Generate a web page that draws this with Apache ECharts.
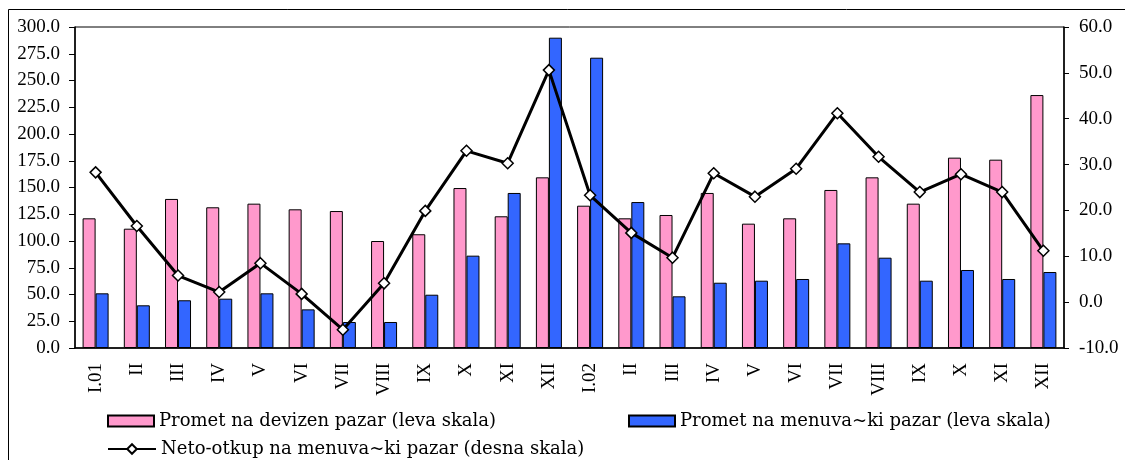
<!DOCTYPE html>
<html>
<head>
<meta charset="utf-8">
<script src="https://cdn.jsdelivr.net/npm/echarts@6/dist/echarts.min.js"></script>
<style>
html,body{margin:0;padding:0;background:#fff;}
#chart{width:1125px;height:460px;}
</style>
</head>
<body>
<div id="chart"></div>
<script>
var categories = ['I.01','II','III','IV','V','VI','VII','VIII','IX','X','XI','XII','I.02','II','III','IV','V','VI','VII','VIII','IX','X','XI','XII'];
var devizen = [121.2,111.5,139.3,131.5,134.9,129.6,128.0,100.0,106.3,149.5,123.1,159.5,133.0,121.2,124.3,144.9,116.2,121.2,147.7,159.5,134.9,177.9,176.0,236.4];
var menuvacki = [51.1,39.9,44.6,46.1,51.1,36.1,24.3,24.3,49.8,86.3,144.9,290.0,271.3,136.4,48.3,61.0,62.9,64.5,97.8,84.4,62.9,72.9,64.5,71.0];
var netoOtkup = [28.3,16.6,5.8,2.2,8.5,1.8,-6.0,4.1,19.9,33.0,30.3,50.6,23.3,15.1,9.7,28.1,23.0,29.1,41.2,31.7,24.0,27.9,24.0,11.2];
var seriesNames = ['Promet na devizen pazar (leva skala)','Promet na menuva~ki pazar (leva skala)','Neto-otkup na menuva~ki pazar (desna skala)'];

var FONT = '"Liberation Serif", "DejaVu Serif", serif';
var LFONT = '"DejaVu Serif", "Liberation Serif", serif';
var legendText = {fontFamily: LFONT, fontSize: 18, color: '#000'};
var chart = echarts.init(document.getElementById('chart'));
chart.setOption({
  animation: false,
  textStyle: {fontFamily: FONT, color: '#000'},
  grid: {left: 75, right: 61, top: 27, bottom: 112, show: true, borderColor: '#000', borderWidth: 1},
  legend: [
    {data: [{name: seriesNames[0], icon: 'rect'}], left: 107, top: 412, padding: 0, itemWidth: 46, itemHeight: 11, itemGap: 0, textStyle: legendText},
    {data: [{name: seriesNames[1], icon: 'rect'}], left: 628, top: 412, padding: 0, itemWidth: 46, itemHeight: 11, itemGap: 0, textStyle: legendText},
    {data: [seriesNames[2]], left: 107, top: 440, padding: 0, itemWidth: 48, itemHeight: 12, itemGap: 0, textStyle: legendText}
  ],
  xAxis: {
    type: 'category', data: categories, boundaryGap: true,
    axisLine: {lineStyle: {color: '#000', width: 1.5}},
    axisTick: {interval: 0, length: 6, lineStyle: {color: '#000'}},
    axisLabel: {interval: 0, rotate: 90, fontSize: 19, color: '#000', fontFamily: FONT, margin: 15}
  },
  yAxis: [
    {type: 'value', min: 0, max: 300, interval: 25, position: 'left',
     splitLine: {show: false},
     axisLine: {show: true, lineStyle: {color: '#000', width: 1.5}},
     axisTick: {show: true, length: 6, lineStyle: {color: '#000'}},
     axisLabel: {fontSize: 19, color: '#000', fontFamily: FONT, margin: 15,
       formatter: function (v) { return v.toFixed(1); }}},
    {type: 'value', min: -10, max: 60, interval: 10, position: 'right',
     splitLine: {show: false},
     axisLine: {show: true, lineStyle: {color: '#000', width: 1.5}},
     axisTick: {show: true, length: 5, lineStyle: {color: '#000'}},
     axisLabel: {fontSize: 19, color: '#000', fontFamily: FONT, margin: 15,
       formatter: function (v) { return v.toFixed(1); }}}
  ],
  series: [
    {name: seriesNames[0], type: 'bar', data: devizen, barWidth: 13, barGap: '0%',
     itemStyle: {color: '#FF99CC', borderColor: '#000', borderWidth: 1}},
    {name: seriesNames[1], type: 'bar', data: menuvacki, barWidth: 13, barGap: '0%',
     itemStyle: {color: '#3366FF', borderColor: '#000', borderWidth: 1}},
    {name: seriesNames[2], type: 'line', yAxisIndex: 1, data: netoOtkup, z: 5,
     symbol: 'diamond', symbolSize: 11,
     lineStyle: {color: '#000', width: 3},
     itemStyle: {color: '#fff', borderColor: '#000', borderWidth: 1.5}}
  ],
  graphic: [
    {type: 'rect', shape: {x: 8.5, y: 9.5, width: 1130, height: 470}, silent: true,
     style: {fill: 'none', stroke: '#000', lineWidth: 1}}
  ]
});
</script>
</body>
</html>
